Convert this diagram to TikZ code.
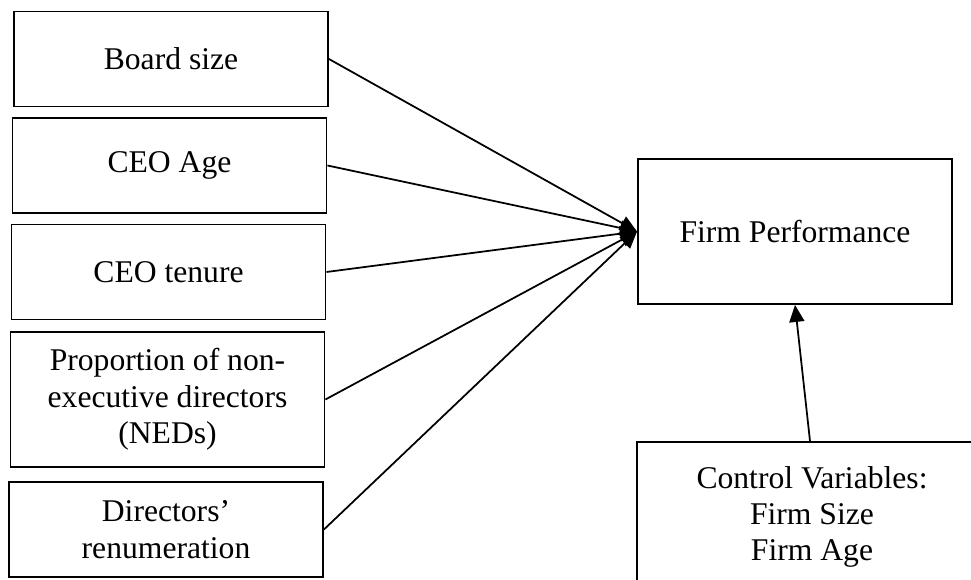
\documentclass[tikz,border=0pt]{standalone}
\usepackage{fontspec}
\setmainfont{Liberation Serif}
\usetikzlibrary{arrows.meta,positioning}

\begin{document}
\begin{tikzpicture}[x=0.02cm, y=-0.02cm, font=\fontsize{18}{20.7}\selectfont,
      var/.style={draw, line width=1.1pt, align=center, inner sep=2pt,
                  minimum width=6.28cm, minimum height=1.9cm},
      lnk/.style={-{Triangle[length=3.4mm,width=3mm]}, line width=1pt}]
    \useasboundingbox (0,0) rectangle (971,580);
    \clip (0,0) rectangle (971,580);
    % predictors
    \node[var] (bsize) at (171,59) {Board size};
    \node[var] (ceoage) at (169.5,165.5) {CEO Age};
    \node[var] (tenure) at (168.5,272) {CEO tenure};
    \node[var, minimum height=2.7cm] (neds) at (167.5,399.5)
      {Proportion of non-\\executive directors\\(NEDs)};
    \node[var] (pay) at (166,529.5) {Directors’\\renumeration};
    % outcome and controls
    \node[var, minimum height=2.9cm] (perf) at (795,231.5) {Firm Performance};
    \node[var, minimum width=7cm, minimum height=3cm] (ctrl) at (812,517)
      {Control Variables:\\Firm Size\\Firm Age};
    \draw[lnk] (bsize.east) -- (perf.west);
    \draw[lnk] (ceoage.east) -- (perf.west);
    \draw[lnk] (tenure.east) -- (perf.west);
    \draw[lnk] (neds.east) -- (perf.west);
    \draw[lnk] (pay.east) -- (perf.west);
    \draw[lnk] ([xshift=-0.04cm]ctrl.north) -- (perf.south);
  \end{tikzpicture}
\end{document}
